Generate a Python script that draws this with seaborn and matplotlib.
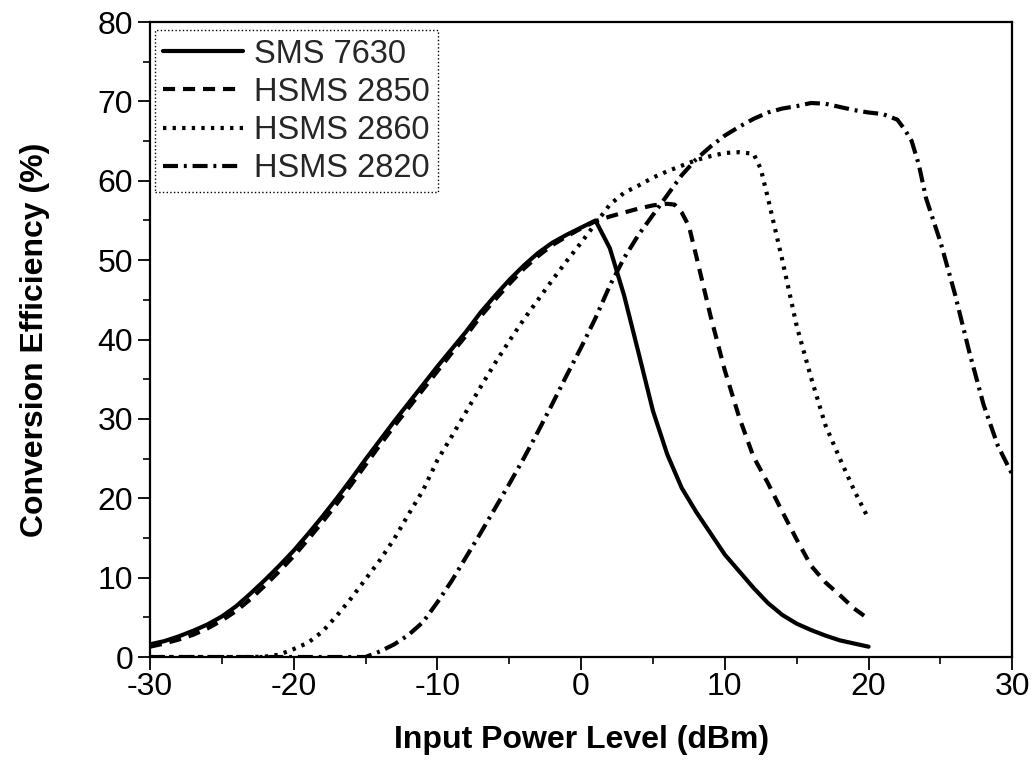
import numpy as np
import pandas as pd
import matplotlib
matplotlib.use("Agg")
import matplotlib.pyplot as plt
import seaborn as sns

# ---------------- data ----------------
x_sms7630 = [-30, -29, -28, -27, -26, -25, -24, -23, -22, -21, -20, -19, -18, -17, -16, -15,
             -14, -13, -12, -11, -10, -9, -8, -7, -6, -5, -4, -3, -2, -1, 0, 1,
             2, 3, 4, 5, 6, 7, 8, 9, 10, 11, 12, 13, 14, 15, 16, 17, 18, 19, 20]
y_sms7630 = [1.6, 2.0, 2.6, 3.3, 4.1, 5.1, 6.4, 8.0, 9.7, 11.5, 13.4, 15.5, 17.7, 20.0, 22.4, 24.9,
             27.3, 29.7, 32.0, 34.3, 36.6, 38.8, 41.0, 43.4, 45.5, 47.5, 49.3, 50.9, 52.2, 53.2, 54.1, 55.0,
             51.5, 45.5, 38.3, 31.0, 25.5, 21.3, 18.3, 15.6, 12.9, 10.8, 8.7, 6.8, 5.3, 4.2, 3.4, 2.7, 2.1, 1.7, 1.3]

x_hsms2850 = [-30, -29, -28, -27, -26, -25, -24, -23, -22, -21, -20, -19, -18, -17, -16, -15,
              -14, -13, -12, -11, -10, -9, -8, -7, -6, -5, -4, -3, -2, -1, 0, 1,
              2, 3, 4, 5, 6, 6.5, 7, 7.5, 8, 9, 10, 11, 12, 13, 14, 15, 16, 17, 18, 19, 20]
y_hsms2850 = [1.3, 1.7, 2.2, 2.8, 3.6, 4.6, 5.8, 7.3, 9.0, 10.8, 12.7, 14.8, 17.0, 19.3, 21.7, 24.2,
              26.7, 29.1, 31.4, 33.7, 36.0, 38.3, 40.5, 42.9, 45.0, 47.0, 48.9, 50.5, 51.9, 53.0, 54.0, 54.9,
              55.5, 56.0, 56.5, 56.9, 57.1, 57.0, 56.0, 54.3, 50.6, 43.0, 36.1, 30.2, 25.2, 21.9, 18.3, 14.8,
              11.5, 9.4, 7.8, 6.1, 4.8]

x_hsms2860 = [-30, -29, -28, -27, -26, -25, -24, -23, -22, -21, -20, -19, -18, -17, -16, -15,
              -14, -13, -12, -11, -10, -9, -8, -7, -6, -5, -4, -3, -2, -1, 0, 1,
              2, 3, 4, 5, 6, 7, 8, 9, 10, 11, 12, 12.5, 13, 14, 15, 16, 17, 18, 19, 20]
y_hsms2860 = [0.0, 0.0, 0.0, 0.0, 0.0, 0.0, 0.0, 0.0, 0.05, 0.3, 1.0, 1.8, 3.2, 5.2, 7.4, 9.8,
              12.2, 14.9, 18.0, 21.0, 24.8, 27.8, 30.9, 34.0, 37.0, 39.8, 42.5, 45.0, 47.5, 49.9, 52.2, 54.6,
              57.0, 58.5, 59.4, 60.4, 61.2, 61.9, 62.6, 63.1, 63.5, 63.6, 63.4, 61.5, 57.8, 50.0, 41.7, 35.2,
              29.2, 25.0, 21.0, 17.4]

x_hsms2820 = [-30, -28, -26, -24, -22, -20, -18, -16, -15, -14, -13, -12, -11, -10, -9, -8, -7, -6, -5,
              -4, -3, -2, -1, 0, 1, 2, 3, 4, 5, 6, 7, 8, 9, 10, 11, 12, 13, 14, 15, 16, 17, 18, 19, 20,
              21, 22, 22.5, 23, 23.5, 24, 25, 26, 27, 28, 29, 30]
y_hsms2820 = [0.0, 0.0, 0.0, 0.0, 0.0, 0.0, 0.0, 0.0, 0.0, 0.7, 1.6, 2.8, 4.4, 6.9, 9.6, 12.6, 15.6, 18.7, 21.8,
              25.0, 28.4, 31.9, 35.5, 39.0, 42.7, 46.8, 50.3, 53.2, 55.7, 58.2, 60.7, 62.7, 64.3, 65.7, 66.8,
              67.8, 68.6, 69.1, 69.4, 69.8, 69.7, 69.3, 68.9, 68.6, 68.4, 67.7, 66.5, 65.0, 62.0, 57.8, 52.3,
              45.8, 38.5, 31.8, 26.6, 23.0]

series_names = ["SMS 7630", "HSMS 2850", "HSMS 2860", "HSMS 2820"]
x_ticks = [-30, -20, -10, 0, 10, 20, 30]
y_ticks = [0, 10, 20, 30, 40, 50, 60, 70, 80]
x_label = "Input Power Level (dBm)"
y_label = "Conversion Efficiency (%)"

# ---------------- build long-form table ----------------
frames = []
for name, xs, ys in zip(series_names,
                        [x_sms7630, x_hsms2850, x_hsms2860, x_hsms2820],
                        [y_sms7630, y_hsms2850, y_hsms2860, y_hsms2820]):
    frames.append(pd.DataFrame({"x": xs, "y": ys, "Device": name}))
df = pd.concat(frames, ignore_index=True)

# ---------------- style ----------------
sns.set_theme(style="ticks")
plt.rcParams["font.family"] = ["Liberation Sans", "DejaVu Sans"]

fig = plt.figure(figsize=(10.34, 7.78), dpi=100)
ax = fig.add_axes([0.145, 0.1555, 0.834, 0.8162])

dash_styles = {
    "SMS 7630": "",
    "HSMS 2850": (2.9, 1.9),
    "HSMS 2860": (0.8, 1.5),
    "HSMS 2820": (3.6, 1.4, 0.7, 1.4),
}

sns.lineplot(data=df, x="x", y="y", style="Device", style_order=series_names,
             dashes=dash_styles, color="black", linewidth=3, estimator=None,
             ax=ax, legend=True)

ax.set_xlim(-30, 30)
ax.set_ylim(0, 80)
ax.set_xticks(x_ticks)
ax.set_yticks(y_ticks)
ax.set_xticks(np.arange(-25, 30, 10), minor=True)
ax.set_yticks(np.arange(5, 80, 10), minor=True)
ax.set_xticklabels([str(v) for v in x_ticks])
ax.set_yticklabels([str(v) for v in y_ticks])

ax.tick_params(axis="both", which="major", direction="out", length=9, width=1.3,
               labelsize=23, color="black", labelcolor="black")
ax.tick_params(axis="both", which="minor", direction="out", length=5, width=1.2, color="black")
ax.tick_params(axis="x", which="major", pad=2)
ax.tick_params(axis="y", which="major", pad=3)
ax.tick_params(top=False, right=False, which="both")

for sp in ax.spines.values():
    sp.set_visible(True)
    sp.set_color("black")
    sp.set_linewidth(1.6)

ax.set_xlabel(x_label, fontsize=23, fontweight="bold", color="black", labelpad=16)
ax.set_ylabel(y_label, fontsize=23, fontweight="bold", color="black", labelpad=34)
ax.grid(False)

handles, labels = ax.get_legend_handles_labels()
ax.get_legend().remove()
leg = ax.legend(handles, labels, loc="upper left", bbox_to_anchor=(-0.002, 0.997),
                fontsize=23.5, frameon=True, fancybox=False, handlelength=2.45,
                handletextpad=0.35, labelspacing=0.22, borderpad=0.25, borderaxespad=0.2)
for h in leg.get_lines():
    h.set_linewidth(3)
    h.set_color("black")
frame = leg.get_frame()
frame.set_edgecolor("black")
frame.set_linewidth(1.0)
frame.set_linestyle(":")
frame.set_facecolor("white")
frame.set_alpha(1)

fig.savefig("out.png", dpi=100)
